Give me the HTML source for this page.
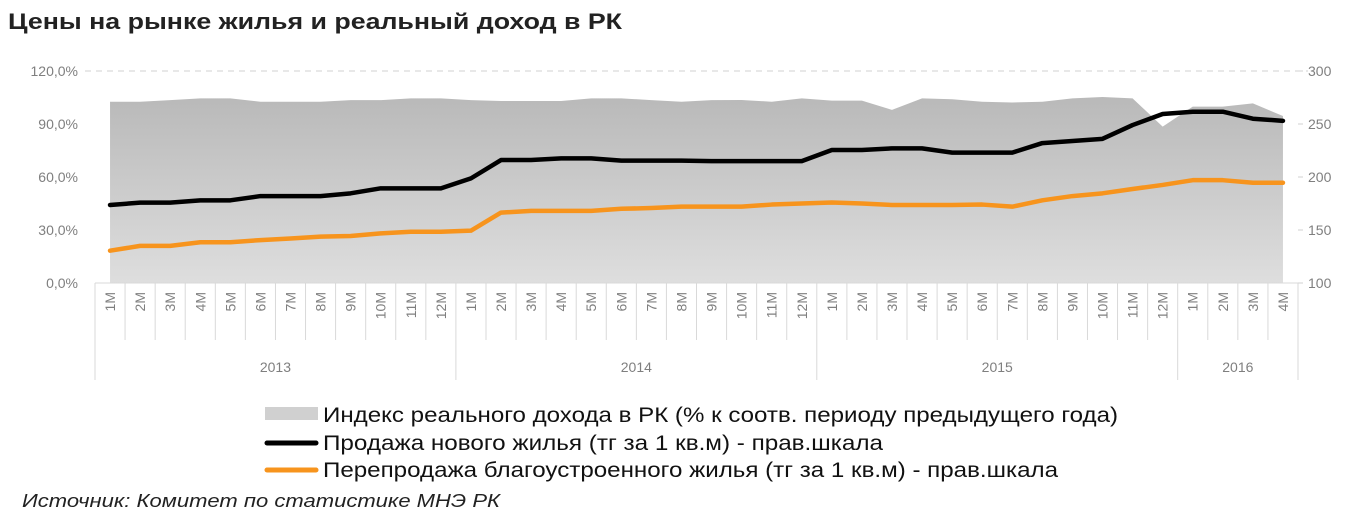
<!DOCTYPE html>
<html><head><meta charset="utf-8"><style>
body{margin:0;background:#fff;width:1362px;height:522px;overflow:hidden;font-family:"Liberation Sans",sans-serif}
svg{display:block}
</style></head><body>
<svg width="1362" height="522" xmlns="http://www.w3.org/2000/svg">
<defs><linearGradient id="ag" x1="0" y1="0" x2="0" y2="1"><stop offset="0" stop-color="#b9b9b9"/><stop offset="1" stop-color="#dedede"/></linearGradient></defs>
<text x="8" y="29" font-size="22" font-weight="bold" fill="#222" textLength="614" lengthAdjust="spacingAndGlyphs">Цены на рынке жилья и реальный доход в РК</text>
<g id="plot"></g>
<g>
<rect x="265" y="407" width="53" height="13" fill="#d0d0d0"/>
<text x="323" y="422" font-size="21" fill="#111" textLength="795" lengthAdjust="spacingAndGlyphs">Индекс реального дохода в РК (% к соотв. периоду предыдущего года)</text>
<line x1="267" y1="443" x2="316" y2="443" stroke="#000" stroke-width="5" stroke-linecap="round"/>
<text x="323" y="450" font-size="21" fill="#111" textLength="560" lengthAdjust="spacingAndGlyphs">Продажа нового жилья (тг за 1 кв.м) - прав.шкала</text>
<line x1="267" y1="470" x2="316" y2="470" stroke="#f7941d" stroke-width="5" stroke-linecap="round"/>
<text x="323" y="477" font-size="21" fill="#111" textLength="735" lengthAdjust="spacingAndGlyphs">Перепродажа благоустроенного жилья (тг за 1 кв.м) - прав.шкала</text>
</g>
<text x="22" y="507" font-size="18" font-style="italic" fill="#222" textLength="478" lengthAdjust="spacingAndGlyphs">Источник: Комитет по статистике МНЭ РК</text>
</svg>
<script>
const years=["2013","2014","2015","2016"];
const monthsPerYear=[12,12,12,4];
const income=[102.6,102.6,103.5,104.5,104.5,102.6,102.6,102.6,103.5,103.5,104.5,104.5,103.5,103,103,103,104.5,104.5,103.5,102.6,103.5,103.6,102.6,104.5,103.2,103.2,98,104.5,104,102.6,102.2,102.6,104.5,105.3,104.5,88.5,99.8,99.8,101.7,94.5];
const newHousing=[173.6,175.8,175.8,178,178,182,182,182,184.6,189.3,189.3,189.3,198.7,216,216,217.6,217.6,215.4,215.4,215.4,215,215,215,215,225.5,225.5,227,227,223,223,223,232,234,236,249,259.4,261.6,261.6,255,253];
const resale=[130.5,135,135,138.4,138.4,140.5,142,143.7,144.3,146.8,148.4,148.4,149.4,166.4,168,168,168,170,170.7,172,172,172,174,175,176,175,173.6,173.6,173.6,174,172,178,182,184.6,188.7,192.5,197,197,194.6,194.6];
const leftTicks=["0,0%","30,0%","60,0%","90,0%","120,0%"];
const rightTicks=["100","150","200","250","300"];
const NS="http://www.w3.org/2000/svg";
const g=document.getElementById('plot');
const X0=95,X1=1298,Y0=283,Y1=71,N=income.length,step=(X1-X0)/N;
const xc=i=>X0+step*(i+0.5);
const yl=v=>Y0-(v/120)*(Y0-Y1);
const yr=v=>Y0-((v-100)/200)*(Y0-Y1);
function mk(tag,attrs){const e=document.createElementNS(NS,tag);for(const k in attrs)e.setAttribute(k,attrs[k]);g.appendChild(e);return e;}
let gl=mk('line',{x1:X0-10,x2:X1+10,y1:Y1,y2:Y1,stroke:'#d0d0d0','stroke-dasharray':'6,5'});


let d='M'+xc(0)+','+Y0;
income.forEach((v,i)=>{d+=' L'+xc(i)+','+yl(v);});
d+=' L'+xc(N-1)+','+Y0+' Z';
let ar=mk('path',{d:d,fill:'url(#ag)'});


function line(arr,col,name){
  let p=arr.map((v,i)=>(i?'L':'M')+xc(i)+','+yr(v)).join(' ');
  let e=mk('path',{d:p,fill:'none',stroke:col,'stroke-width':4.5,'stroke-linejoin':'round','stroke-linecap':'round'});
  
  
}
line(resale,'#f7941d','resale-line');
line(newHousing,'#000','new-housing-line');
leftTicks.forEach((t,i)=>{
  let v=parseFloat(t.replace(',','.'));
  let e=mk('text',{x:78,y:yl(v)+5,'font-size':14,fill:'#7f7f7f','text-anchor':'end'});
  e.textContent=t;
  
  
});
rightTicks.forEach(t=>{
  let v=+t;
  let e=mk('text',{x:1308,y:yr(v)+5,'font-size':14,fill:'#7f7f7f'});
  e.textContent=t;
  
  
  let tk=mk('line',{x1:X1,x2:X1+5,y1:yr(v),y2:yr(v),stroke:'#d0d0d0'});
  
  
});
let ax=mk('line',{x1:X0,x2:X1,y1:Y0,y2:Y0,stroke:'#d9d9d9'});


let idx=0;
years.forEach((y,yi)=>{
  const start=idx;
  for(let m=0;m<monthsPerYear[yi];m++){
    let bx=X0+step*idx;
    let ln=mk('line',{x1:bx,x2:bx,y1:Y0,y2:(m===0?380:340),stroke:'#d9d9d9'});
    
    
    let cx=xc(idx);
    let t=mk('text',{x:0,y:0,'font-size':14,fill:'#7f7f7f','text-anchor':'end',transform:'translate('+(cx+5)+',292) rotate(-90)'});
    t.textContent=(m+1)+'M';
    
    
    idx++;
  }
  let mid=X0+step*(start+idx)/2;
  let yt=mk('text',{x:mid,y:372,'font-size':14,fill:'#7f7f7f','text-anchor':'middle'});
  yt.textContent=y;
  
  
});
let le=mk('line',{x1:X1,x2:X1,y1:Y0,y2:380,stroke:'#d9d9d9'});


</script>
</body></html>
